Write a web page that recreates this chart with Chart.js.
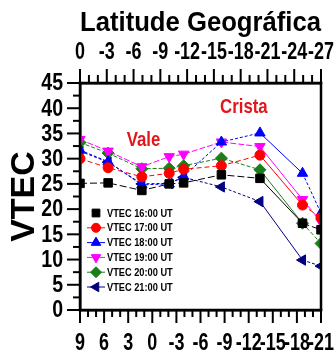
<!DOCTYPE html>
<html>
<head>
<meta charset="utf-8">
<script src="https://cdn.jsdelivr.net/npm/chart.js@4.4.1/dist/chart.umd.min.js"></script>
<style>
  html, body { margin: 0; padding: 0; background: #fff; }
  #wrap { width: 334px; height: 361px; position: relative; }
</style>
</head>
<body>
<div id="wrap"><canvas id="chart"></canvas></div>
<script>
// magnetic latitude of each station (bottom axis)
const latMag = [9, 5.5, 1.3, -2.1, -3.9, -8.6, -13.4, -18.7, -21];

const vtec16 = [25.1, 25.2, 23.7, 25.0, 25.2, 26.8, 26.1, 17.2, 15.9];
const vtec17 = [30.0, 28.2, 26.4, 27.1, 27.9, 28.6, 30.7, 20.8, 18.3];
const vtec18 = [31.7, 29.4, 24.8, 25.0, 26.5, 33.3, 35.1, 27.1, 19.2];
const vtec19 = [33.8, 31.5, 28.4, 30.4, 30.9, 33.3, 32.4, 21.9, 17.5];
const vtec20 = [33.2, 31.1, 28.0, 28.1, 28.6, 30.1, 27.8, 17.2, 13.2];
const vtec21 = [31.5, 29.3, 25.0, 25.1, 26.3, 24.4, 21.5, 9.9, 8.7];

const seriesLabels = ["VTEC 16:00 UT", "VTEC 17:00 UT", "VTEC 18:00 UT",
  "VTEC 19:00 UT", "VTEC 20:00 UT", "VTEC 21:00 UT"];

const bottomTicks = [9, 6, 3, 0, -3, -6, -9, -12, -15, -18, -21];
const topTicks = [0, -3, -6, -9, -12, -15, -18, -21, -24, -27];
const yTicks = [0, 5, 10, 15, 20, 25, 30, 35, 40, 45];

const annotations = [
  { text: "Vale", x: 1.1, y: 33.7 },
  { text: "Crista", x: -11.4, y: 40.3 },
];

const FONT = "'Liberation Sans', Arial, sans-serif";

function pts(vals) {
  return vals.map((v, i) => ({ x: latMag[i], y: v }));
}

function makeSet(label, vals, color, style, rot, radius, dash) {
  return {
    label,
    data: pts(vals),
    borderColor: color,
    backgroundColor: color,
    pointBackgroundColor: color,
    pointBorderColor: color,
    pointStyle: style,
    rotation: rot,
    pointRadius: radius,
    pointBorderWidth: 1,
    borderWidth: 1,
    tension: 0,
    segment: {
      borderDash: (ctx) => (ctx.p0DataIndex === 6 ? [] : dash),
    },
  };
}

const datasets = [
  makeSet(seriesLabels[0], vtec16, "#000000", "rect", 0, 6, [7, 3]),
  makeSet(seriesLabels[1], vtec17, "#ff0000", "circle", 0, 5, [5, 3]),
  makeSet(seriesLabels[2], vtec18, "#0000ff", "triangle", 0, 6, [3, 2]),
  makeSet(seriesLabels[3], vtec19, "#ff00ff", "triangle", 180, 6, [6, 2]),
  makeSet(seriesLabels[4], vtec20, "#1a7f1a", "rectRot", 0, 6, [4, 2]),
  makeSet(seriesLabels[5], vtec21, "#000080", "triangle", -90, 6, [3, 2]),
];

// text squeezed horizontally, like the narrow font of the original
function narrowText(ctx, text, x, y, sx, align) {
  ctx.save();
  ctx.translate(x, y);
  ctx.scale(sx, 1);
  ctx.textAlign = align;
  ctx.fillText(text, 0, 0);
  ctx.restore();
}

// filled bar centred on (cx, cy), drawn with Chart.js' own point helper
function bar(ctx, cx, cy, w, h) {
  Chart.helpers.drawPointLegend(ctx, {
    pointStyle: "rect",
    rotation: 0,
    radius: h / Math.SQRT2,
    borderWidth: 0,
  }, cx, cy, w);
}

const decor = {
  id: "decor",
  afterDraw(chart) {
    const { ctx, chartArea: a, scales } = chart;
    ctx.save();
    ctx.fillStyle = "#000";
    ctx.strokeStyle = "#000";

    // tick marks
    for (let v = 0; v <= 45; v += 2.5) {
      const y = scales.y.getPixelForValue(v);
      const len = v % 5 === 0 ? 13 : 7;
      bar(ctx, a.left - len / 2, y, len, 2);
    }
    for (let v = -21; v <= 9; v += 1) {
      const x = scales.x.getPixelForValue(v);
      const len = v % 3 === 0 ? 13 : 7;
      bar(ctx, x, a.bottom + len / 2, 2, len);
    }
    for (let v = -27; v <= 0; v += 1) {
      const x = scales.x2.getPixelForValue(v);
      const len = v % 3 === 0 ? 14 : 8;
      bar(ctx, x, a.top - len / 2, 2, len);
    }

    // frame
    const w = 2.5;
    const cx = (a.left + a.right) / 2;
    const cy = (a.top + a.bottom) / 2;
    bar(ctx, cx, a.top, a.right - a.left + w, w);
    bar(ctx, cx, a.bottom, a.right - a.left + w, w);
    bar(ctx, a.left, cy, w, a.bottom - a.top + w);
    bar(ctx, a.right, cy, w, a.bottom - a.top + w);

    // tick labels
    ctx.font = "bold 23px " + FONT;
    ctx.textBaseline = "middle";
    yTicks.forEach((v) => {
      narrowText(ctx, String(v), a.left - 17, scales.y.getPixelForValue(v) + 1, 0.85, "right");
    });
    bottomTicks.forEach((v) => {
      narrowText(ctx, String(v), scales.x.getPixelForValue(v), 344, 0.78, "center");
    });
    topTicks.forEach((v) => {
      narrowText(ctx, String(v), scales.x2.getPixelForValue(v), 53, 0.78, "center");
    });

    // Vale / Crista
    ctx.fillStyle = "#e3161c";
    ctx.font = "bold 21px " + FONT;
    annotations.forEach((t) => {
      narrowText(ctx, t.text, scales.x.getPixelForValue(t.x), scales.y.getPixelForValue(t.y), 0.8, "center");
    });

    // legend
    ctx.font = "bold 11px " + FONT;
    chart.data.datasets.forEach((ds, i) => {
      const y = 213 + i * 14.8;
      const mx = 96;
      ctx.fillStyle = ds.pointBackgroundColor;
      ctx.strokeStyle = ds.pointBorderColor;
      ctx.lineWidth = 1;
      if (i > 0) bar(ctx, mx, y, 18, 1);
      Chart.helpers.drawPoint(ctx, {
        pointStyle: ds.pointStyle,
        rotation: ds.rotation,
        radius: ds.pointRadius - 0.5,
        borderWidth: 1,
      }, mx, y);
      ctx.fillStyle = "#000";
      narrowText(ctx, ds.label, 107, y + 0.5, 0.84, "left");
    });
    ctx.restore();
  },
};

new Chart(document.getElementById("chart").getContext("2d"), {
  type: "line",
  data: { datasets },
  options: {
    responsive: true,
    maintainAspectRatio: false,
    animation: false,
    layout: { padding: { left: 0, right: 13, top: 0, bottom: 0 } },
    plugins: {
      legend: { display: false },
      tooltip: { enabled: false },
    },
    scales: {
      x: {
        type: "linear",
        position: "bottom",
        min: -21,
        max: 9,
        reverse: true,
        grid: { display: false },
        border: { display: true, width: 2.5, color: "#000" },
        ticks: { display: false },
        afterFit: (s) => { s.height = 51; },
      },
      x2: {
        type: "linear",
        position: "top",
        min: -27,
        max: 0,
        reverse: true,
        grid: { display: false },
        border: { display: true, width: 2.5, color: "#000" },
        ticks: { display: false },
        afterFit: (s) => { s.height = 83; },
        title: {
          display: true,
          text: "Latitude Geográfica",
          color: "#000",
          font: { family: FONT, size: 27, weight: "bold" },
          padding: { top: 7, bottom: 0 },
        },
      },
      y: {
        min: 0,
        max: 45,
        grid: { display: false },
        border: { display: true, width: 2.5, color: "#000" },
        ticks: { display: false },
        afterFit: (s) => { s.width = 80; },
        title: {
          display: true,
          text: "VTEC",
          color: "#000",
          font: { family: FONT, size: 34, weight: "bold" },
          padding: { top: 4, bottom: 0 },
        },
      },
    },
  },
  plugins: [decor],
});
</script>
</body>
</html>
